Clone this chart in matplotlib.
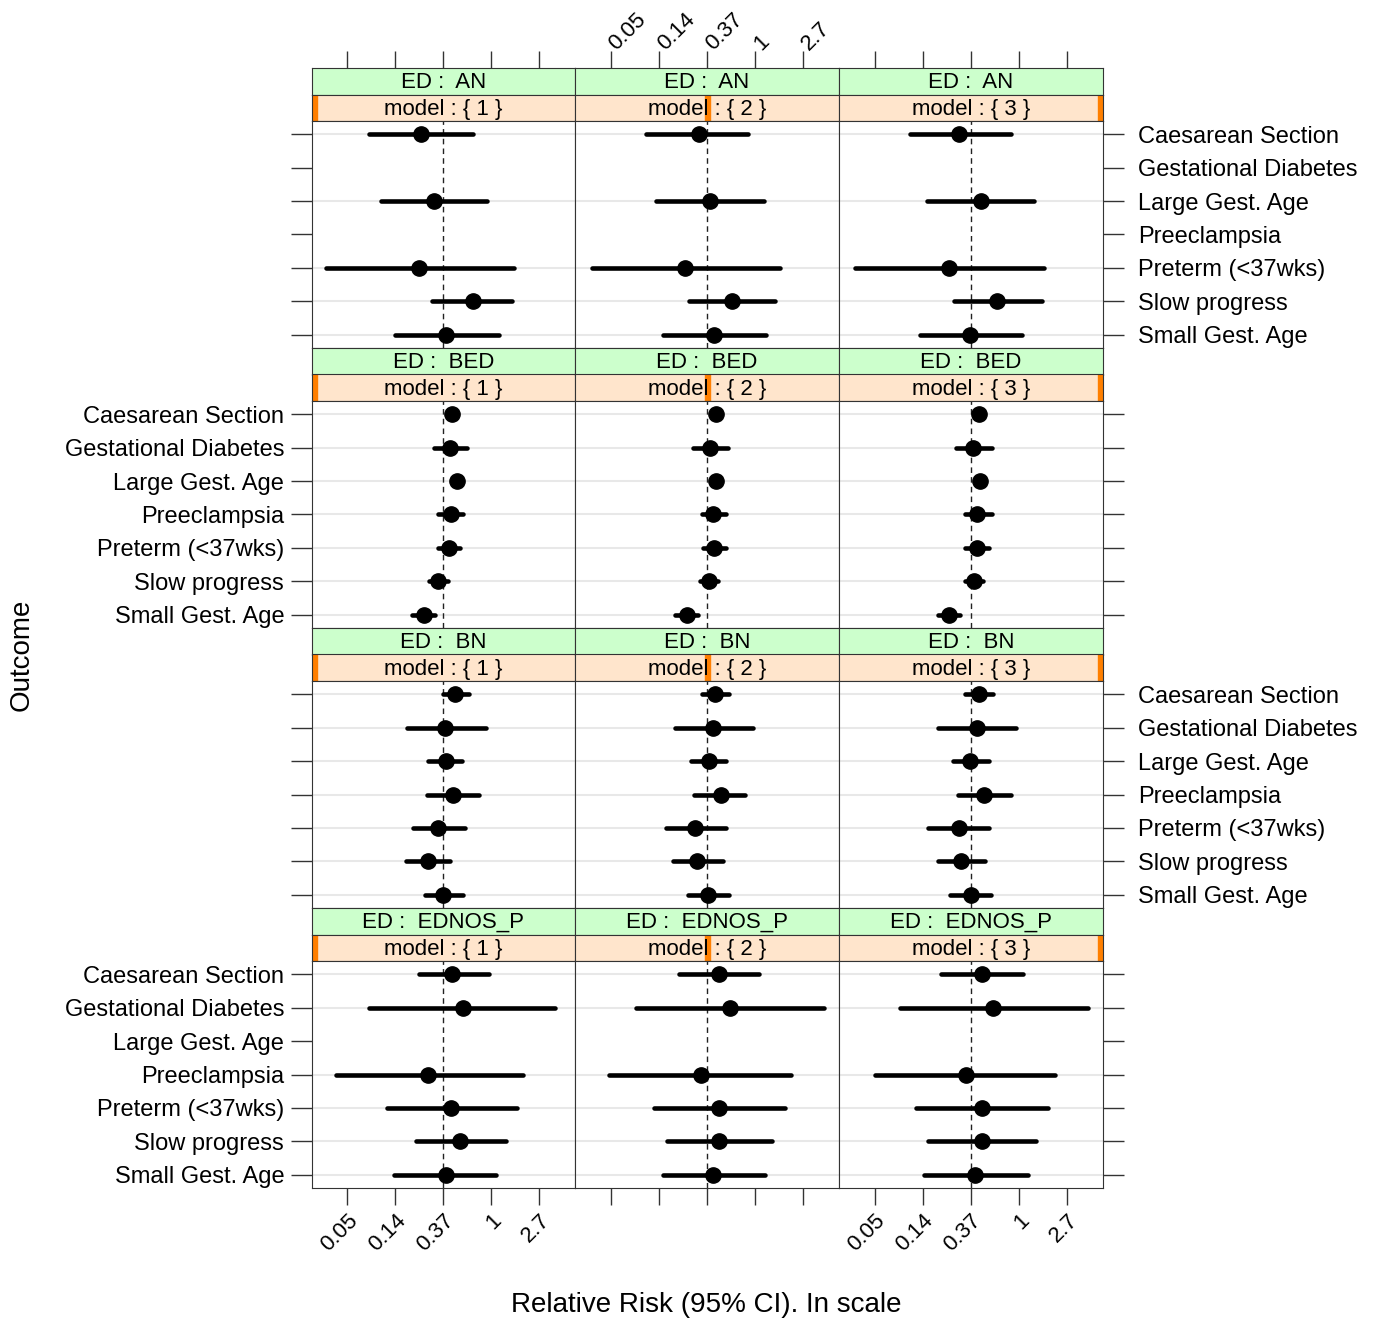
import numpy as np
import matplotlib.pyplot as plt
from matplotlib.transforms import ScaledTranslation

plt.rcParams['font.family'] = ['Liberation Sans', 'DejaVu Sans']

# outcome order, top to bottom
outcomes = ["Caesarean Section", "Gestational Diabetes", "Large Gest. Age",
            "Preeclampsia", "Preterm (<37wks)", "Slow progress", "Small Gest. Age"]
eds = ["AN", "BED", "BN", "EDNOS_P"]
models = [1, 2, 3]

# x axis is log scale, labels are exp(tick)
tick_pos = [-3, -2, -1, 0, 1]
tick_labels = ["0.05", "0.14", "0.37", "1", "2.7"]
ref_line = -1

nan = np.nan

# log relative risk, one row per model
est_AN = [[-1.47, nan, -1.20, nan, -1.50, -0.38, -0.95],
          [-1.17, nan, -0.94, nan, -1.46, -0.47, -0.84],
          [-1.24, nan, -0.78, nan, -1.46, -0.45, -1.01]]
lo_AN = [[-2.55, nan, -2.30, nan, -3.44, -1.23, -2.00],
         [-2.27, nan, -2.05, nan, -3.38, -1.37, -1.92],
         [-2.27, nan, -1.90, nan, -3.41, -1.34, -2.05]]
hi_AN = [[-0.38, nan, -0.09, nan, 0.47, 0.43, 0.17],
         [-0.14, nan, 0.19, nan, 0.53, 0.41, 0.23],
         [-0.16, nan, 0.32, nan, 0.53, 0.48, 0.06]]

est_BED = [[-0.82, -0.86, -0.72, -0.84, -0.87, -1.11, -1.41],
           [-0.80, -0.94, -0.80, -0.86, -0.84, -0.95, -1.42],
           [-0.82, -0.96, -0.80, -0.86, -0.87, -0.94, -1.45]]
lo_BED = [[-0.90, -1.20, -0.79, -1.10, -1.10, -1.29, -1.66],
          [-0.88, -1.29, -0.87, -1.10, -1.08, -1.15, -1.67],
          [-0.90, -1.30, -0.87, -1.13, -1.11, -1.13, -1.68]]
hi_BED = [[-0.74, -0.50, -0.65, -0.58, -0.65, -0.90, -1.17],
          [-0.72, -0.56, -0.73, -0.59, -0.59, -0.77, -1.19],
          [-0.74, -0.56, -0.73, -0.56, -0.62, -0.74, -1.22]]

est_BN = [[-0.75, -0.96, -0.95, -0.80, -1.10, -1.32, -1.00],
          [-0.83, -0.87, -0.96, -0.71, -1.24, -1.21, -0.98],
          [-0.83, -0.87, -1.01, -0.73, -1.25, -1.20, -0.99]]
lo_BN = [[-1.00, -1.76, -1.31, -1.34, -1.64, -1.78, -1.38],
         [-1.10, -1.66, -1.33, -1.26, -1.85, -1.71, -1.38],
         [-1.13, -1.69, -1.36, -1.27, -1.89, -1.68, -1.43]]
hi_BN = [[-0.47, -0.11, -0.61, -0.26, -0.54, -0.86, -0.58],
         [-0.53, -0.04, -0.59, -0.20, -0.59, -0.67, -0.53],
         [-0.54, -0.05, -0.62, -0.17, -0.62, -0.70, -0.57]]

est_EDNOS_P = [[-0.81, -0.59, nan, -1.31, -0.84, -0.65, -0.95],
               [-0.75, -0.52, nan, -1.12, -0.75, -0.75, -0.86],
               [-0.76, -0.53, nan, -1.10, -0.76, -0.76, -0.92]]
lo_EDNOS_P = [[-1.51, -2.55, nan, -3.23, -2.18, -1.56, -2.03],
              [-1.58, -2.48, nan, -3.04, -2.10, -1.83, -1.92],
              [-1.61, -2.48, nan, -3.00, -2.13, -1.88, -1.97]]
hi_EDNOS_P = [[-0.05, 1.33, nan, 0.67, 0.54, 0.30, 0.11],
              [0.09, 1.43, nan, 0.76, 0.62, 0.35, 0.22],
              [0.09, 1.44, nan, 0.76, 0.60, 0.36, 0.19]]

est_all = [est_AN, est_BED, est_BN, est_EDNOS_P]
lo_all = [lo_AN, lo_BED, lo_BN, lo_EDNOS_P]
hi_all = [hi_AN, hi_BED, hi_BN, hi_EDNOS_P]

W, H = 1375, 1324
fig = plt.figure(figsize=(W / 100, H / 100), dpi=100)

col_x = [312, 575, 839]
col_w = [263, 264, 264]
row_top0 = 68
row_step = 280
strip_h = 26.5
panel_h = 227
xlim = (-3.74, 1.75)
frame_col = "#333333"
lab_size = 17


def fig_rect(x, top, w, h):
    return [x / W, 1 - (top + h) / H, w / W, h / H]


ypos = np.arange(len(outcomes), 0, -1)

for r, ed in enumerate(eds):
    top = row_top0 + r * row_step
    for c, m in enumerate(models):
        # green strip (ED)
        sg = fig.add_axes(fig_rect(col_x[c], top, col_w[c], strip_h))
        sg.set_facecolor("#ccffcc")
        sg.set_xlim(xlim)
        sg.set_ylim(0, 1)
        sg.set_yticks([])
        sg.text(0.5, 0.45, f"ED :  {ed}", transform=sg.transAxes,
                ha="center", va="center", fontsize=16)
        for s in sg.spines.values():
            s.set_color(frame_col)
        if r == 0:
            sg.xaxis.tick_top()
            sg.set_xticks(tick_pos)
            sg.tick_params(axis="x", direction="out", length=12, width=1,
                           color=frame_col, pad=3, labelsize=16)
            if c == 1:
                sg.set_xticklabels(tick_labels, rotation=45, ha="left",
                                   va="baseline", rotation_mode="anchor")
                shift = ScaledTranslation(6 / 100, -4 / 100, fig.dpi_scale_trans)
                for t in sg.get_xticklabels():
                    t.set_transform(t.get_transform() + shift)
            else:
                sg.set_xticklabels([])
        else:
            sg.set_xticks([])

        # peach strip (model) with level marker
        sp = fig.add_axes(fig_rect(col_x[c], top + strip_h, col_w[c], strip_h))
        sp.set_facecolor("#ffe5cc")
        sp.set_xlim(0, 1)
        sp.set_ylim(0, 1)
        sp.set_xticks([])
        sp.set_yticks([])
        bw = 5 / col_w[c]
        bx = (m - 1) / 2 * (1 - bw)
        sp.axvspan(bx, bx + bw, color="#ff7f00", zorder=1)
        sp.text(0.5, 0.42, "model : { %d }" % m, ha="center", va="center",
                fontsize=16, zorder=2)
        for s in sp.spines.values():
            s.set_color(frame_col)

        # panel
        ax = fig.add_axes(fig_rect(col_x[c], top + 2 * strip_h, col_w[c], panel_h))
        est = np.array(est_all[r][c])
        lo = np.array(lo_all[r][c])
        hi = np.array(hi_all[r][c])
        for i in range(len(outcomes)):
            if np.isnan(est[i]):
                continue
            ax.axhline(ypos[i], color="#e8e8e8", lw=1.5, zorder=0)
            ax.plot([lo[i], hi[i]], [ypos[i], ypos[i]], color="black",
                    lw=3.3, solid_capstyle="round", zorder=2)
            ax.plot(est[i], ypos[i], "o", color="black", ms=11, zorder=3)
        ax.axvline(ref_line, color="#222222", lw=1, ls=(0, (4, 3)), zorder=1)
        ax.set_xlim(xlim)
        ax.set_ylim(0.6, 7.4)
        for s in ax.spines.values():
            s.set_color(frame_col)

        ax.set_yticks(ypos)
        ax.set_yticklabels(outcomes)
        ax.tick_params(axis="y", direction="out", length=15, width=1,
                       color=frame_col, labelsize=lab_size,
                       left=(c == 0), right=(c == 2),
                       labelleft=(c == 0 and r % 2 == 1),
                       labelright=(c == 2 and r % 2 == 0))
        if c == 2:
            ax.tick_params(axis="y", pad=10)
        else:
            ax.tick_params(axis="y", pad=5)

        if r == len(eds) - 1:
            ax.set_xticks(tick_pos)
            ax.tick_params(axis="x", direction="out", length=12, width=1,
                           color=frame_col, labelsize=16, pad=4)
            if c != 1:
                ax.set_xticklabels(tick_labels, rotation=45, ha="right",
                                   va="top", rotation_mode="anchor")
            else:
                ax.set_xticklabels([])
        else:
            ax.set_xticks([])

fig.text(22 / W, 1 - 655 / H, "Outcome", rotation=90, ha="center",
         va="center", fontsize=20)
fig.text(706 / W, 1 - 1305 / H, "Relative Risk (95% CI). In scale",
         ha="center", va="center", fontsize=20)

fig.savefig("out.png", dpi=100)
